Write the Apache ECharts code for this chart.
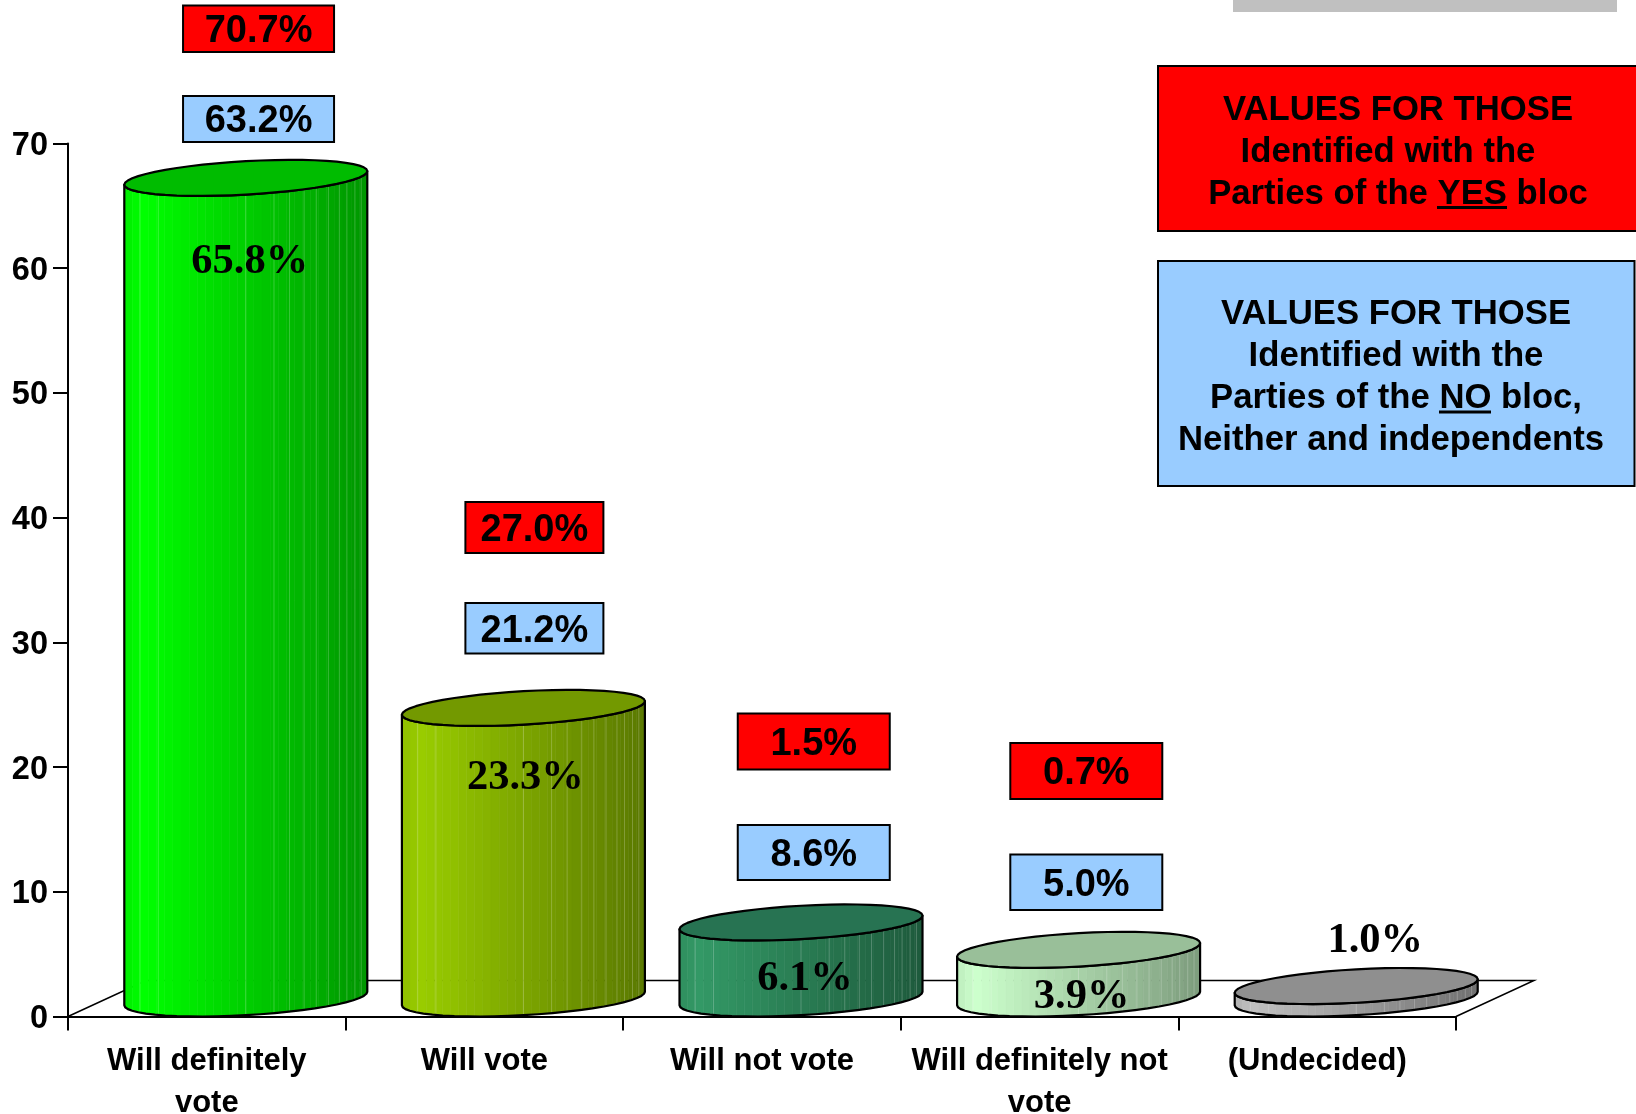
<!DOCTYPE html>
<html>
<head>
<meta charset="utf-8">
<style>
  html, body { margin: 0; padding: 0; background: #fff; }
  #chart { width: 1636px; height: 1114px; }
</style>
<script src="https://cdn.jsdelivr.net/npm/echarts@6/dist/echarts.min.js"></script>
</head>
<body>
<div id="chart"></div>
<script>
// data
const categories = ['Will definitely\nvote', 'Will vote', 'Will not vote', 'Will definitely not\nvote', '(Undecided)']
const allValues = [65.8, 23.3, 6.1, 3.9, 1.0]
const yesValues = [70.7, 27.0, 1.5, 0.7]
const noValues = [63.2, 21.2, 8.6, 5.0]
const yTicks = { min: 0, max: 70, interval: 10 }

// cylinder look: bright side, dark side, top face
const cylColors = [
  ['#00ff00', '#009500', '#00bc00'],
  ['#99cc00', '#5a7800', '#739900'],
  ['#339966', '#1e5a3c', '#277352'],
  ['#ccffcc', '#7d9c7d', '#99bf99'],
  ['#c0c0c0', '#707070', '#8f8f8f']
]
const seams = [0.064, 0.14, 0.5, 0.616, 0.68, 0.74, 0.79, 0.84, 0.885, 0.916, 0.949, 0.975]

// floor depth and ellipse shape, px
const depthX = 78
const depthY = 36
const radiusX = 121.5
const skewY = 6.8
const radiusY = 16.7

// where the value text sits, relative to band centre (x) and absolute (y)
const valueLabelDx = [43, 41, 43, 42, 58]
const valueLabelY = [262, 778, 979, 997, 941]

// annotation boxes
const boxDx = [51.75, 50, 51.75, 46.7]
const boxWidth = [151, 138, 152, 152]
const yesBoxTop = [5.5, 502, 713.5, 743]
const yesBoxHeight = [46.5, 51, 56, 56]
const noBoxTop = [96, 603, 825, 854.5]
const noBoxHeight = [46, 50.5, 55, 55.5]

const sansFont = '"Liberation Sans", Arial, Helvetica, sans-serif'
const serifFont = '"Liberation Serif", "Times New Roman", serif'

function hexToRgb(hex) {
  return [1, 3, 5].map(i => parseInt(hex.substr(i, 2), 16))
}

function shadeAt(bright, dark, f) {
  const a = hexToRgb(bright)
  const b = hexToRgb(dark)
  let c
  if (f < 0.08) {
    const k = 0.93 + 0.07 * f / 0.08
    c = a.map(v => v * k)
  } else {
    const t = (f - 0.08) / 0.92
    c = a.map((v, i) => v + (b[i] - v) * t)
  }
  return 'rgb(' + c.map(Math.round).join(',') + ')'
}

// point on the sheared ellipse; f goes 0..1 from left to right, side is +1 front, -1 back
function rimPoint(cx, cy, f, side) {
  const c = 2 * f - 1
  const s = Math.sqrt(Math.max(0, 1 - c * c))
  return [cx + radiusX * c, cy - skewY * c + side * radiusY * s]
}

// same rim, stepped evenly by angle so the ends stay round
function rimAtStep(cx, cy, k, segs, side) {
  return rimPoint(cx, cy, (1 - Math.cos(Math.PI * k / segs)) / 2, side)
}

function renderFloor(params) {
  const g = params.coordSys
  const bottom = g.y + g.height
  return {
    type: 'polyline',
    silent: true,
    shape: {
      points: [
        [g.x, bottom],
        [g.x + depthX, bottom - depthY],
        [g.x + g.width + depthX, bottom - depthY],
        [g.x + g.width, bottom]
      ]
    },
    style: { fill: null, stroke: '#000', lineWidth: 1.5 }
  }
}

function renderCylinder(params, api) {
  const idx = api.value(0)
  const val = api.value(1)
  const colors = cylColors[idx]
  const base = api.coord([idx, 0])
  const top = api.coord([idx, val])
  const cx = base[0] + depthX / 2
  const yBase = base[1] - depthY / 2
  const yTop = top[1] - depthY / 2
  const children = []

  // front wall, strip by strip
  const strips = 30
  for (let i = 0; i < strips; i++) {
    const f0 = i / strips
    const f1 = (i + 1) / strips
    const pts = []
    for (let k = 0; k <= 3; k++) pts.push(rimPoint(cx, yTop, f0 + (f1 - f0) * k / 3, 1))
    for (let k = 3; k >= 0; k--) pts.push(rimPoint(cx, yBase, f0 + (f1 - f0) * k / 3, 1))
    const col = shadeAt(colors[0], colors[1], (f0 + f1) / 2)
    children.push({
      type: 'polygon',
      shape: { points: pts },
      style: { fill: col, stroke: col, lineWidth: 0.6 }
    })
  }
  seams.forEach(f => {
    const a = rimPoint(cx, yTop, f, 1)
    const b = rimPoint(cx, yBase, f, 1)
    children.push({
      type: 'line',
      shape: { x1: a[0], y1: a[1], x2: b[0], y2: b[1] },
      style: { stroke: 'rgba(255,255,255,0.22)', lineWidth: 1 }
    })
  })

  // outline of the wall
  const segs = 26
  const outline = []
  for (let k = 0; k <= segs; k++) outline.push(rimAtStep(cx, yBase, k, segs, 1))
  for (let k = segs; k >= 0; k--) outline.push(rimAtStep(cx, yTop, k, segs, 1))
  children.push({
    type: 'polygon',
    shape: { points: outline },
    style: { fill: null, stroke: '#000', lineWidth: 2.2, lineJoin: 'round' }
  })

  // top face
  const rim = []
  for (let k = 0; k <= segs; k++) rim.push(rimAtStep(cx, yTop, k, segs, 1))
  for (let k = segs - 1; k > 0; k--) rim.push(rimAtStep(cx, yTop, k, segs, -1))
  children.push({
    type: 'polygon',
    shape: { points: rim },
    style: { fill: colors[2], stroke: '#000', lineWidth: 2.2, lineJoin: 'round' }
  })

  children.push({
    type: 'text',
    style: {
      x: base[0] + valueLabelDx[idx],
      y: valueLabelY[idx],
      text: val.toFixed(1) + '%',
      align: 'center',
      verticalAlign: 'middle',
      fill: '#000',
      font: 'bold 42.5px ' + serifFont
    }
  })
  return { type: 'group', children: children }
}

function boxRenderer(tops, heights, fill) {
  return function (params, api) {
    const idx = api.value(0)
    const cx = api.coord([idx, 0])[0] + boxDx[idx]
    const w = boxWidth[idx]
    const t = tops[idx]
    const h = heights[idx]
    return {
      type: 'group',
      children: [
        {
          type: 'rect',
          shape: { x: cx - w / 2, y: t, width: w, height: h },
          style: { fill: fill, stroke: '#000', lineWidth: 2 }
        },
        {
          type: 'text',
          style: {
            x: cx,
            y: t + h / 2 + 3,
            text: api.value(1).toFixed(1) + '%',
            align: 'center',
            verticalAlign: 'middle',
            fill: '#000',
            font: 'bold 38px ' + sansFont
          }
        }
      ]
    }
  }
}

function panelText(x, y, text) {
  return {
    type: 'text',
    z: 20,
    silent: true,
    style: {
      x: x,
      y: y + 3,
      text: text,
      align: 'center',
      verticalAlign: 'middle',
      fill: '#000',
      font: 'bold 34.7px ' + sansFont
    }
  }
}

function underline(x1, x2, y) {
  return {
    type: 'line',
    z: 20,
    silent: true,
    shape: { x1: x1, y1: y, x2: x2, y2: y },
    style: { stroke: '#000', lineWidth: 3 }
  }
}

const chart = echarts.init(document.getElementById('chart'))
chart.setOption({
  animation: false,
  backgroundColor: '#fff',
  grid: { left: 68, right: 180, top: 143.5, bottom: 97.5, outerBoundsMode: 'none' },
  xAxis: {
    type: 'category',
    data: categories,
    axisLine: { lineStyle: { color: '#000', width: 2 } },
    axisTick: { show: true, length: 14, lineStyle: { color: '#000', width: 2 } },
    axisLabel: {
      interval: 0,
      margin: 24,
      color: '#000',
      fontFamily: sansFont,
      fontWeight: 'bold',
      fontSize: 31,
      lineHeight: 42
    }
  },
  yAxis: {
    type: 'value',
    min: yTicks.min,
    max: yTicks.max,
    interval: yTicks.interval,
    splitLine: { show: false },
    axisLine: { show: true, lineStyle: { color: '#000', width: 2 } },
    axisTick: { show: true, length: 15, lineStyle: { color: '#000', width: 2 } },
    axisLabel: {
      margin: 20,
      // small line box hung from the tick drops the digits a little below centre
      verticalAlign: 'top',
      lineHeight: 5,
      color: '#000',
      fontFamily: sansFont,
      fontWeight: 'bold',
      fontSize: 32.5
    }
  },
  series: [
    {
      type: 'custom',
      z: 1,
      silent: true,
      renderItem: renderFloor,
      data: [[0, 0]],
      encode: { x: 0, y: 1 }
    },
    {
      type: 'custom',
      z: 3,
      silent: true,
      renderItem: renderCylinder,
      data: allValues.map((v, i) => [i, v]),
      encode: { x: 0, y: 1 }
    },
    {
      type: 'custom',
      z: 4,
      silent: true,
      renderItem: boxRenderer(yesBoxTop, yesBoxHeight, '#ff0000'),
      data: yesValues.map((v, i) => [i, v]),
      encode: { x: 0 }
    },
    {
      type: 'custom',
      z: 4,
      silent: true,
      renderItem: boxRenderer(noBoxTop, noBoxHeight, '#99ccff'),
      data: noValues.map((v, i) => [i, v]),
      encode: { x: 0 }
    }
  ],
  graphic: [
    { type: 'rect', silent: true, z: 10, shape: { x: 1233, y: 0, width: 384, height: 12 }, style: { fill: '#c0c0c0' } },
    { type: 'rect', silent: true, z: 10, shape: { x: 1158, y: 66, width: 480, height: 165 }, style: { fill: '#ff0000', stroke: '#000', lineWidth: 2 } },
    { type: 'rect', silent: true, z: 10, shape: { x: 1158, y: 261, width: 476.5, height: 225 }, style: { fill: '#99ccff', stroke: '#000', lineWidth: 2 } },
    panelText(1398, 107, 'VALUES FOR THOSE'),
    panelText(1388, 149, 'Identified with the'),
    panelText(1398, 191, 'Parties of the YES bloc'),
    underline(1437, 1507, 207.5),
    panelText(1396, 311, 'VALUES FOR THOSE'),
    panelText(1396, 353, 'Identified with the'),
    panelText(1396, 395, 'Parties of the NO bloc,'),
    panelText(1391, 437, 'Neither and independents'),
    underline(1439, 1491, 412)
  ]
})
</script>
</body>
</html>
